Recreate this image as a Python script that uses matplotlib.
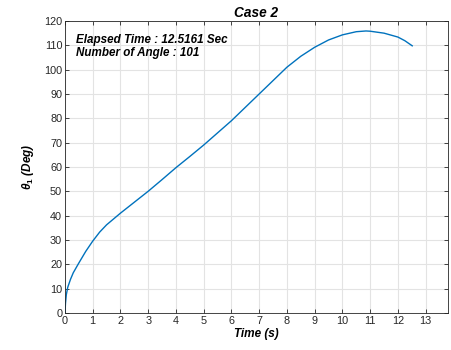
import numpy as np
import matplotlib
matplotlib.use('Agg')
import matplotlib.pyplot as plt

plt.rcParams['font.family'] = ['Liberation Sans', 'DejaVu Sans']
plt.rcParams['mathtext.fontset'] = 'custom'
plt.rcParams['mathtext.it'] = 'Liberation Sans:italic:bold'
plt.rcParams['mathtext.rm'] = 'Liberation Sans:bold'

# data
time_s = [0, 0.02, 0.05, 0.1, 0.2, 0.3, 0.5, 0.75, 1.0, 1.25, 1.5, 2.0, 2.5, 3.0,
          3.5, 4.0, 4.5, 5.0, 5.5, 6.0, 6.5, 7.0, 7.5, 8.0, 8.5, 9.0, 9.5,
          10.0, 10.5, 10.85, 11.0, 11.5, 12.0, 12.25, 12.5161]
theta1 = [0, 4.0, 7.5, 10.5, 13.8, 16.5, 20.5, 25.3, 29.5, 33.2, 36.2, 41.0, 45.5, 50.0,
          54.8, 59.7, 64.3, 69.0, 74.0, 79.0, 84.5, 90.0, 95.5, 101.0, 105.5,
          109.2, 112.2, 114.3, 115.6, 115.9, 115.8, 115.0, 113.4, 111.9, 109.8]
xticks = list(range(0, 14))
yticks = list(range(0, 121, 10))

fig = plt.figure(figsize=(4.51, 3.5), dpi=100)
ax = fig.add_axes([0.144, 0.106, 0.849, 0.834])

ax.plot(time_s, theta1, color='#0072BD', linewidth=1.0)

ax.set_xlim(0, 13.8)
ax.set_ylim(0, 120)
ax.set_xticks(xticks)
ax.set_yticks(yticks)
ax.grid(True, color='#e3e3e3', linewidth=0.8)
ax.set_axisbelow(True)
ax.tick_params(direction='in', length=3, width=0.6, labelsize=7.8,
               colors='#262626', top=True, right=True, pad=2)
for s in ax.spines.values():
    s.set_color('#262626')
    s.set_linewidth(0.6)

ax.set_title('Case 2', fontsize=9.8, fontweight='bold', style='italic', pad=3)
ax.set_xlabel('Time (s)', fontsize=8.5, fontweight='bold', style='italic', labelpad=2)
ax.set_ylabel(r'$\theta_1$ (Deg)', fontsize=8.5, fontweight='bold', style='italic', labelpad=6)

ax.text(0.03, 0.955, 'Elapsed Time : 12.5161 Sec\nNumber of Angle : 101',
        transform=ax.transAxes, fontsize=8.4, fontweight='bold', style='italic',
        va='top', ha='left', linespacing=1.05)

fig.savefig('out.png', dpi=100)
